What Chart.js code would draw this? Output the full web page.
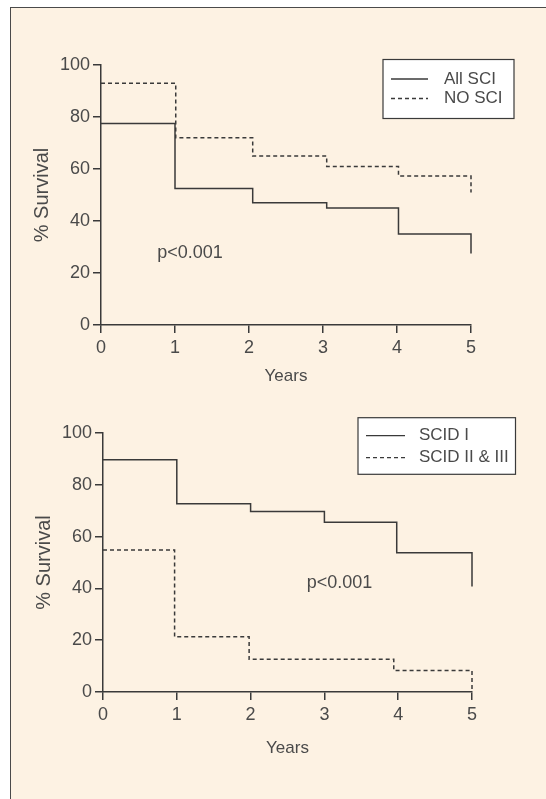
<!DOCTYPE html>
<html>
<head>
<meta charset="utf-8">
<script src="https://cdn.jsdelivr.net/npm/chart.js@4"></script>
<style>
    html, body { margin: 0; padding: 0; background: #fff; }
    body { width: 546px; height: 799px; position: relative; overflow: hidden; }
    .moldura { position: absolute; left: 10px; top: 7px; width: 600px; height: 900px; border: 1px solid #4a4a4a; background: #fdf2e3; }
    canvas { position: absolute; left: 0; }
    #grafico1 { top: 0; }
    #grafico2 { top: 400px; }
</style>
</head>
<body>
<div class="moldura"></div>
<canvas id="grafico1" width="546" height="400"></canvas>
<canvas id="grafico2" width="546" height="399"></canvas>
<script>
// dados (anos, % sobrevida)
const anosAllSci = [0, 1, 2.05, 3.05, 4.02, 5, 5];
const survAllSci = [77.5, 52.5, 47, 45, 35, 35, 27.5];
const anosNoSci = [0, 1.01, 2.05, 3.05, 4.02, 5, 5];
const survNoSci = [93, 72, 65, 61, 57.3, 57.3, 51];

const anosScid1 = [0, 1, 2, 3, 3.98, 5, 5];
const survScid1 = [89.7, 72.7, 69.7, 65.5, 53.8, 53.8, 40.7];
const anosScid23 = [0, 0.97, 1.98, 3.94, 5, 5];
const survScid23 = [54.8, 21.3, 12.6, 8.3, 8.3, 1];

const xTicks = [0, 1, 2, 3, 4, 5];
const yTicks = [0, 20, 40, 60, 80, 100];

const corLinha = '#3a3a3a';
const corTexto = '#4a4a4a';
const fonte = 'Liberation Sans, Arial, Helvetica, sans-serif';

const pontos = (xs, ys) => xs.map((x, i) => ({ x: x, y: ys[i] }));

// legenda com moldura + texto do p-valor
const legendaCaixa = {
    id: 'legendaCaixa',
    afterDraw(chart, args, opts) {
        const ctx = chart.ctx;
        ctx.save();
        ctx.fillStyle = '#fff';
        ctx.fillRect(opts.x, opts.y, opts.w, opts.h);
        ctx.strokeStyle = corLinha;
        ctx.lineWidth = 1.2;
        ctx.strokeRect(opts.x, opts.y, opts.w, opts.h);
        ctx.font = '17px ' + fonte;
        ctx.textBaseline = 'middle';
        chart.data.datasets.forEach((ds, i) => {
            const yy = opts.y + opts.linha1 + i * opts.espaco;
            ctx.setLineDash(ds.borderDash || []);
            ctx.lineWidth = 1.3;
            ctx.beginPath();
            ctx.moveTo(opts.x + 8, yy);
            ctx.lineTo(opts.x + 8 + opts.comp, yy);
            ctx.stroke();
            ctx.setLineDash([]);
            ctx.fillStyle = corTexto;
            ctx.fillText(ds.label, opts.x + 61, yy);
        });
        ctx.font = '18px ' + fonte;
        ctx.fillStyle = corTexto;
        ctx.fillText(opts.pTexto, chart.scales.x.getPixelForValue(opts.pX), chart.scales.y.getPixelForValue(opts.pY));
        ctx.restore();
    }
};

function criaGrafico(id, datasets, cfg) {
    const ctx = document.getElementById(id).getContext('2d');
    return new Chart(ctx, {
        type: 'line',
        data: { datasets: datasets },
        plugins: [legendaCaixa],
        options: {
            responsive: false,
            animation: false,
            devicePixelRatio: 1,
            layout: { padding: cfg.padding },
            plugins: {
                legend: { display: false },
                tooltip: { enabled: false },
                legendaCaixa: cfg.legenda
            },
            elements: { point: { radius: 0 } },
            scales: {
                x: {
                    type: 'linear', min: 0, max: 5,
                    afterBuildTicks: s => { s.ticks = xTicks.map(v => ({ value: v })); },
                    afterFit: s => { s.height = cfg.alturaX; s.paddingLeft = 0; s.paddingRight = 0; s.paddingTop = 0; s.paddingBottom = 0; },
                    grid: { display: true, drawOnChartArea: false, drawTicks: true, tickLength: 8, color: corLinha, lineWidth: 1.5 },
                    border: { display: true, color: corLinha, width: 1.5 },
                    ticks: { color: corTexto, font: { family: fonte, size: 18 }, padding: 4, maxRotation: 0, autoSkip: false },
                    title: { display: true, text: 'Years', color: corTexto, font: { family: fonte, size: 17, lineHeight: 1 }, padding: 0 }
                },
                y: {
                    type: 'linear', min: 0, max: 100,
                    afterBuildTicks: s => { s.ticks = yTicks.map(v => ({ value: v })); },
                    afterFit: s => { s.width = cfg.larguraY; s.paddingLeft = 0; s.paddingRight = 0; s.paddingTop = 0; s.paddingBottom = 0; },
                    grid: { display: true, drawOnChartArea: false, drawTicks: true, tickLength: 8, color: corLinha, lineWidth: 1.5 },
                    border: { display: true, color: corLinha, width: 1.5 },
                    ticks: { color: corTexto, font: { family: fonte, size: 18 }, padding: 3 },
                    title: { display: true, text: '% Survival', color: corTexto, font: { family: fonte, size: 20, lineHeight: 1 }, padding: 0 }
                }
            }
        }
    });
}

criaGrafico('grafico1', [
    { label: 'All SCI', data: pontos(anosAllSci, survAllSci), stepped: 'before', borderColor: corLinha, borderWidth: 1.5, fill: false, clip: false },
    { label: 'NO SCI', data: pontos(anosNoSci, survNoSci), stepped: 'before', borderColor: corLinha, borderWidth: 1.5, borderDash: [4, 3], fill: false, clip: false }
], {
    padding: { left: 32, top: 65, right: 75, bottom: 15 },
    larguraY: 69,
    alturaX: 60,
    legenda: { x: 383, y: 59.5, w: 131, h: 59, linha1: 19.5, espaco: 19.5, comp: 37, pTexto: 'p<0.001', pX: 0.76, pY: 27.7 }
});

criaGrafico('grafico2', [
    { label: 'SCID I', data: pontos(anosScid1, survScid1), stepped: 'before', borderColor: corLinha, borderWidth: 1.5, fill: false, clip: false },
    { label: 'SCID II & III', data: pontos(anosScid23, survScid23), stepped: 'before', borderColor: corLinha, borderWidth: 1.5, borderDash: [4, 3], fill: false, clip: false }
], {
    padding: { left: 34, top: 33, right: 74, bottom: 42 },
    larguraY: 69,
    alturaX: 65,
    legenda: { x: 358, y: 17.7, w: 157.5, h: 56.6, linha1: 18, espaco: 22, comp: 39, pTexto: 'p<0.001', pX: 2.76, pY: 42.1 }
});
</script>
</body>
</html>
